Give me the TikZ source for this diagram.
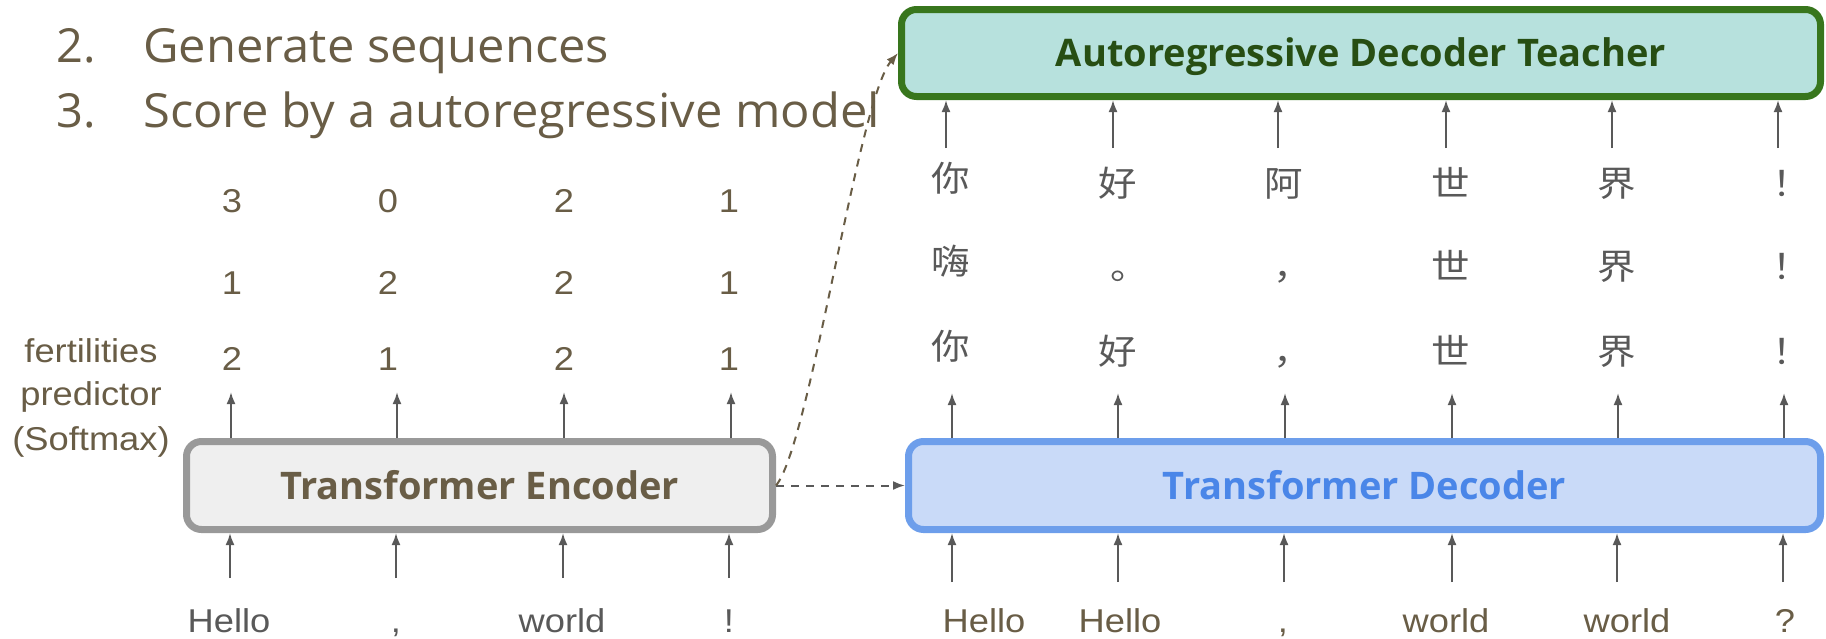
\documentclass[tikz,border=0pt]{standalone}
\usepackage{fontspec}
\setmainfont{Liberation Sans}
\newfontfamily\slidefont{Open Sans}
\newfontfamily\cjk{Noto Sans CJK SC}
\usetikzlibrary{arrows.meta}
\definecolor{ink}{HTML}{695D46}
\definecolor{arrowgray}{HTML}{595959}
\definecolor{encfill}{HTML}{EFEFEF}
\definecolor{encline}{HTML}{999999}
\definecolor{decfill}{HTML}{C9DAF8}
\definecolor{decline}{HTML}{6D9EEB}
\definecolor{dectext}{HTML}{4A86E8}
\definecolor{teafill}{HTML}{B7E1DD}
\definecolor{tealine}{HTML}{38761D}
\definecolor{teatext}{HTML}{274E13}
% labels in the sans face are set slightly wider than their natural shape
\newcommand{\wide}[1]{\scalebox{1.1}[1]{#1}}
\newcommand{\listwide}[1]{\scalebox{1.04}[1]{#1}}

\begin{document}
\begin{tikzpicture}[x=1pt,y=-1pt,
  txt/.style={inner sep=0pt, anchor=base},
  listtxt/.style={inner sep=0pt, anchor=base west, text=ink,
    font=\slidefont\fontsize{47}{56}\selectfont},
  word/.style={txt, font=\fontsize{33}{40}\selectfont},
  digit/.style={txt, text=ink, font=\fontsize{33}{40}\selectfont},
  hanzi/.style={txt, text=arrowgray, font=\cjk\fontsize{35}{40}\selectfont},
  box/.style={draw, line width=7pt, rounded corners=15pt, inner sep=0pt,
    text height=27pt, text depth=0pt,
    font=\slidefont\bfseries\fontsize{38}{44}\selectfont},
  arr/.style={draw=arrowgray, line width=2pt, -{Latex[length=12pt,width=9pt]}},
  dasharr/.style={line width=2pt, dash pattern=on 8pt off 7pt,
    -{Latex[length=12pt,width=9pt]}}
]
\useasboundingbox (0,0) rectangle (1826,638);

% numbered steps
\node[listtxt] (n2) at (56,62) {2.};
\node[listtxt] (s2) at (143,62) {\listwide{Generate sequences}};
\node[listtxt] (n3) at (56,127) {3.};
\node[listtxt] (s3) at (143,127) {\listwide{Score by a autoregressive model}};

% the three models
\node[box, fill=encfill, draw=encline, text=ink,
  minimum width=586pt, minimum height=88pt] (enc) at (479.5,485.5)
  {Transformer Encoder};
\node[box, fill=decfill, draw=decline, text=dectext,
  minimum width=912pt, minimum height=88pt] (dec) at (1364.5,485.5)
  {Transformer Decoder};
\node[box, fill=teafill, draw=tealine, text=teatext,
  minimum width=919pt, minimum height=87pt] (tea) at (1361,53)
  {Autoregressive Decoder Teacher};

% fertility predictor label
\node[word, text=ink] (fl1) at (91,362) {\wide{fertilities}};
\node[word, text=ink] (fl2) at (91,405) {\wide{predictor}};
\node[word, text=ink] (fl3) at (91,450) {\wide{(Softmax)}};

% encoder inputs
\node[word, text=arrowgray] (ew1) at (229,632) {\wide{Hello}};
\node[word, text=arrowgray] (ew2) at (396,632) {\wide{,}};
\node[word, text=arrowgray] (ew3) at (562,632) {\wide{world}};
\node[word, text=arrowgray] (ew4) at (729,632) {\wide{!}};
\coordinate (ei1) at (230,578);
\coordinate (ei2) at (396,578);
\coordinate (ei3) at (563,578);
\coordinate (ei4) at (729,578);
\foreach \i in {1,...,4} \draw[arr] (ei\i) -- (ei\i |- enc.south);

% sampled fertilities
\node[digit] (f11) at (232,212) {\wide{3}};
\node[digit] (f12) at (388,212) {\wide{0}};
\node[digit] (f13) at (564,212) {\wide{2}};
\node[digit] (f14) at (729,212) {\wide{1}};
\node[digit] (f21) at (232,294) {\wide{1}};
\node[digit] (f22) at (388,294) {\wide{2}};
\node[digit] (f23) at (564,294) {\wide{2}};
\node[digit] (f24) at (729,294) {\wide{1}};
\node[digit] (f31) at (232,370) {\wide{2}};
\node[digit] (f32) at (388,370) {\wide{1}};
\node[digit] (f33) at (564,370) {\wide{2}};
\node[digit] (f34) at (729,370) {\wide{1}};
\coordinate (eo1) at (231,392);
\coordinate (eo2) at (397,392);
\coordinate (eo3) at (564,392);
\coordinate (eo4) at (731,392);
\foreach \i in {1,...,4} \draw[arr] (eo\i |- enc.north) -- (eo\i);

% decoder inputs
\node[word, text=ink] (dw1) at (984,632) {\wide{Hello}};
\node[word, text=ink] (dw2) at (1120,632) {\wide{Hello}};
\node[word, text=ink] (dw3) at (1283,632) {\wide{,}};
\node[word, text=ink] (dw4) at (1446,632) {\wide{world}};
\node[word, text=ink] (dw5) at (1627,632) {\wide{world}};
\node[word, text=ink] (dw6) at (1785,632) {\wide{?}};
\coordinate (di1) at (952,582);
\coordinate (di2) at (1118,582);
\coordinate (di3) at (1284,582);
\coordinate (di4) at (1452,582);
\coordinate (di5) at (1617,582);
\coordinate (di6) at (1783,582);
\foreach \i in {1,...,6} \draw[arr] (di\i) -- (di\i |- dec.south);

% decoded candidates (full-width punctuation sits left in its em box)
\node[hanzi] (c11) at (951,191) {\wide{你}};
\node[hanzi] (c12) at (1118,196) {\wide{好}};
\node[hanzi] (c13) at (1284,196) {\wide{阿}};
\node[hanzi] (c14) at (1451,196) {\wide{世}};
\node[hanzi] (c15) at (1617,196) {\wide{界}};
\node[hanzi] (c16) at (1792,196) {\wide{！}};
\node[hanzi] (c21) at (951,274) {\wide{嗨}};
\node[hanzi] (c22) at (1130,279) {\wide{。}};
\node[hanzi] (c23) at (1293,279) {\wide{，}};
\node[hanzi] (c24) at (1451,279) {\wide{世}};
\node[hanzi] (c25) at (1617,279) {\wide{界}};
\node[hanzi] (c26) at (1792,279) {\wide{！}};
\node[hanzi] (c31) at (951,359) {\wide{你}};
\node[hanzi] (c32) at (1118,364) {\wide{好}};
\node[hanzi] (c33) at (1293,364) {\wide{，}};
\node[hanzi] (c34) at (1451,364) {\wide{世}};
\node[hanzi] (c35) at (1617,364) {\wide{界}};
\node[hanzi] (c36) at (1792,364) {\wide{！}};
\coordinate (do1) at (952,393);
\coordinate (do2) at (1118,393);
\coordinate (do3) at (1285,393);
\coordinate (do4) at (1452,393);
\coordinate (do5) at (1618,393);
\coordinate (do6) at (1784,393);
\foreach \i in {1,...,6} \draw[arr] (do\i |- dec.north) -- (do\i);

% teacher inputs
\coordinate (ti1) at (946,148);
\coordinate (ti2) at (1113,148);
\coordinate (ti3) at (1278,148);
\coordinate (ti4) at (1446,148);
\coordinate (ti5) at (1612,148);
\coordinate (ti6) at (1778,148);
\foreach \i in {1,...,6} \draw[arr] (ti\i) -- (ti\i |- tea.south);

% encoder state passed on
\draw[dasharr, draw=arrowgray] (enc.east) -- (dec.west);
\draw[dasharr, draw=ink] (enc.east) .. controls (810,445) and (858,100) .. (tea.west);
\end{tikzpicture}
\end{document}
